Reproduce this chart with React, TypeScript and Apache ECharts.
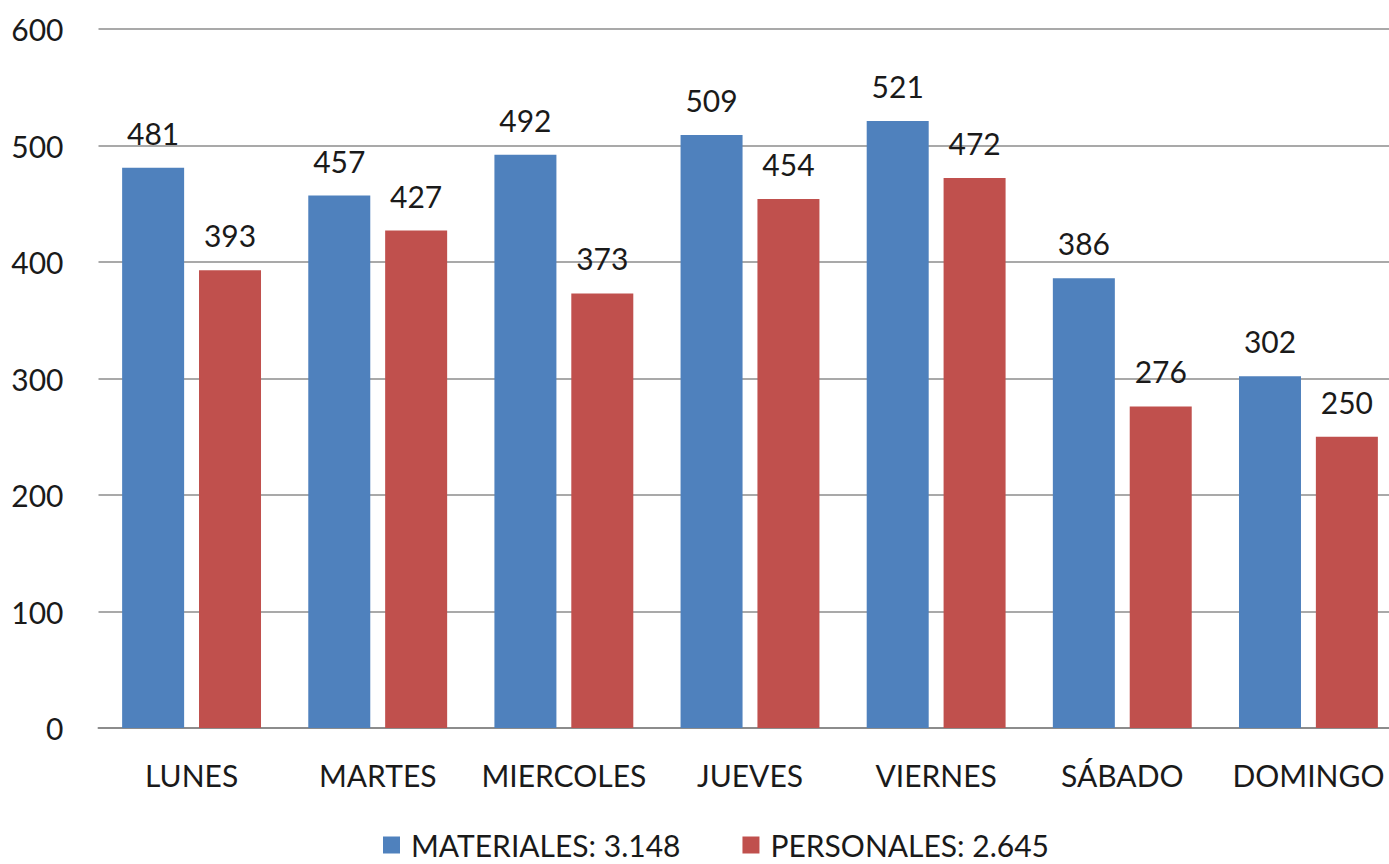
import React, { useEffect, useRef } from "react";
import * as echarts from "echarts";

const categories = ["LUNES", "MARTES", "MIERCOLES", "JUEVES", "VIERNES", "SÁBADO", "DOMINGO"];
const materiales = [481, 457, 492, 509, 521, 386, 302];
const personales = [393, 427, 373, 454, 472, 276, 250];
const seriesNames = ["MATERIALES: 3.148", "PERSONALES: 2.645"];
const yTicks = { min: 0, max: 600, interval: 100 };

const FONT = "Lato, 'Open Sans', sans-serif";

export default function App() {
  const ref = useRef<HTMLDivElement>(null);
  useEffect(() => {
    if (!ref.current) return;
    const chart = echarts.init(ref.current, undefined, { renderer: "svg" });
    const label = {
      show: true,
      position: "top" as const,
      distance: 20,
      fontFamily: FONT,
      fontSize: 30,
      color: "#1a1a1a",
    };
    chart.setOption({
      animation: false,
      backgroundColor: "#ffffff",
      textStyle: { fontFamily: FONT },
      grid: {
        left: 98.5,
        top: 29,
        right: -12.5,
        bottom: 136,
        containLabel: false,
        outerBoundsMode: "none",
      },
      legend: {
        top: 830,
        left: 383,
        padding: 0,
        icon: "rect",
        itemWidth: 17,
        itemHeight: 17,
        itemGap: 62,
        textStyle: {
          fontFamily: FONT,
          fontSize: 30,
          lineHeight: 30,
          color: "#1a1a1a",
          padding: [0, 0, 0, 6],
        },
        data: seriesNames,
      },
      xAxis: {
        type: "category",
        data: categories,
        axisLine: { show: true, lineStyle: { color: "#8c8c8c", width: 2 } },
        axisTick: { show: false },
        axisLabel: { fontFamily: FONT, fontSize: 30, color: "#1a1a1a", margin: 32, interval: 0 },
      },
      yAxis: {
        type: "value",
        min: yTicks.min,
        max: yTicks.max,
        interval: yTicks.interval,
        axisLine: { show: false },
        axisTick: { show: false },
        axisLabel: { fontFamily: FONT, fontSize: 30, color: "#1a1a1a", margin: 35 },
        splitLine: { lineStyle: { color: "#8c8c8c", width: 1.5 } },
      },
      series: [
        {
          name: seriesNames[0],
          type: "bar",
          data: materiales,
          barWidth: 62,
          barGap: "24%",
          itemStyle: { color: "#4F81BD" },
          label,
        },
        {
          name: seriesNames[1],
          type: "bar",
          data: personales,
          barWidth: 62,
          itemStyle: { color: "#C0504D" },
          label,
        },
      ],
    });
    return () => chart.dispose();
  }, []);
  return (
    <div
      ref={ref}
      style={{ position: "fixed", left: 0, top: 0, width: 1389, height: 864, background: "#fff" }}
    />
  );
}
